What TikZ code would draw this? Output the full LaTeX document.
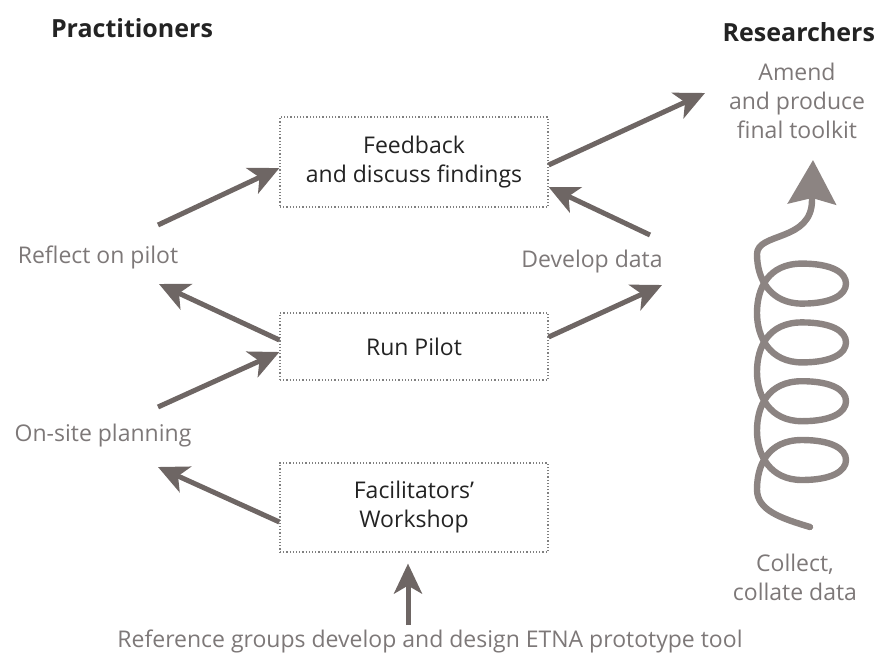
\documentclass[tikz,border=0pt]{standalone}
\usepackage{fontspec}
\setmainfont{Open Sans}
\usepackage{tikz}
\usetikzlibrary{arrows.meta}

\definecolor{arrowgrey}{RGB}{110,102,100}
\definecolor{coilgrey}{RGB}{140,132,130}
\definecolor{labelgrey}{RGB}{125,120,120}
\definecolor{textdark}{RGB}{35,35,35}

\begin{document}
\begin{tikzpicture}
        [
            x = 0.5pt, y = -0.5pt,
            > = {Stealth[length=15pt, width=14pt, inset=4pt]},
            every node/.style = {font=\fontsize{11.5}{14.5}\selectfont},
            box/.style = {rectangle, draw=gray, densely dotted, line width=0.6pt, align=center,
                text=textdark, minimum width=134pt},
            lbl/.style = {text=labelgrey, align=center},
            head/.style = {text=textdark, font=\fontsize{12.5}{14}\selectfont\bfseries},
            flow/.style = {->, draw=arrowgrey, line width=2.5pt},
            coil/.style = {draw=coilgrey, line width=3.2pt, line cap=round, line join=round,
                -{Stealth[length=22pt, width=24pt, inset=3pt]}}
        ]
        \useasboundingbox (0, 0) rectangle (883, 659);

        \node [head] at (132, 28) (practitioners) {Practitioners};
        \node [head, anchor=east] at (882, 32) (researchers) {Researchers};

        \node [box, minimum height=45pt] at (414, 162) (feedback) {Feedback\\and discuss findings};
        \node [box, minimum height=33.5pt] at (414, 346.5) (pilot) {Run Pilot};
        \node [box, minimum height=44.5pt] at (414, 507.5) (workshop) {Facilitators'\\Workshop};

        \node [lbl] at (98, 257) (reflect) {Reflect on pilot};
        \node [lbl] at (592, 262) (develop) {Develop data};
        \node [lbl] at (103, 436) (onsite) {On-site planning};
        \node [lbl] at (797, 101) (amend) {Amend\\and produce\\final toolkit};
        \node [lbl] at (795, 577) (collect) {Collect,\\collate data};
        \node [lbl] at (430, 641) (reference) {Reference groups develop and design ETNA prototype tool};

        \coordinate (reflectout) at (158, 225);
        \coordinate (reflectin) at (159, 284);
        \coordinate (onsiteout) at (158, 407);
        \coordinate (onsitein) at (158, 467);
        \coordinate (amendin) at (705, 93);
        \coordinate (developout) at (650, 235);
        \coordinate (developin) at (662, 285);
        \coordinate (referenceout) at (408, 625);

        \draw [flow] (reflectout) -- ([yshift=-3pt]feedback.west);
        \draw [flow] ([yshift=-1.5pt]feedback.east) -- (amendin);
        \draw [flow] (developout) -- ([yshift=-12.5pt]feedback.east);
        \draw [flow] ([yshift=3.25pt]pilot.west) -- (reflectin);
        \draw [flow] ([yshift=4.75pt]pilot.east) -- (developin);
        \draw [flow] (onsiteout) -- ([yshift=-2.75pt]pilot.west);
        \draw [flow] ([yshift=-7.25pt]workshop.west) -- (onsitein);
        \draw [flow, shorten >=5.5pt] (referenceout) -- ([xshift=-3pt]workshop.south);

        \coordinate (coilstart) at (810, 527);
        \coordinate (coiltip) at (813, 160);
        \draw [coil] (coilstart) .. controls (780, 518) and (757, 510) .. (757, 489.4)
            \foreach \cy in {460, 401.2, 342.4, 283.6} {
                .. controls (757, \cy+5) and (768, \cy-20) .. (802, \cy-20)
                .. controls (832, \cy-20) and (846, \cy-11) .. (846, \cy)
                .. controls (846, \cy+11) and (832, \cy+20) .. (802, \cy+20)
                .. controls (770, \cy+20) and (757, \cy-5) .. (757, \cy-29.4)
            }
            .. controls (757, 232) and (812, 242) .. (812, 200) -- (coiltip);
    \end{tikzpicture}
\end{document}
